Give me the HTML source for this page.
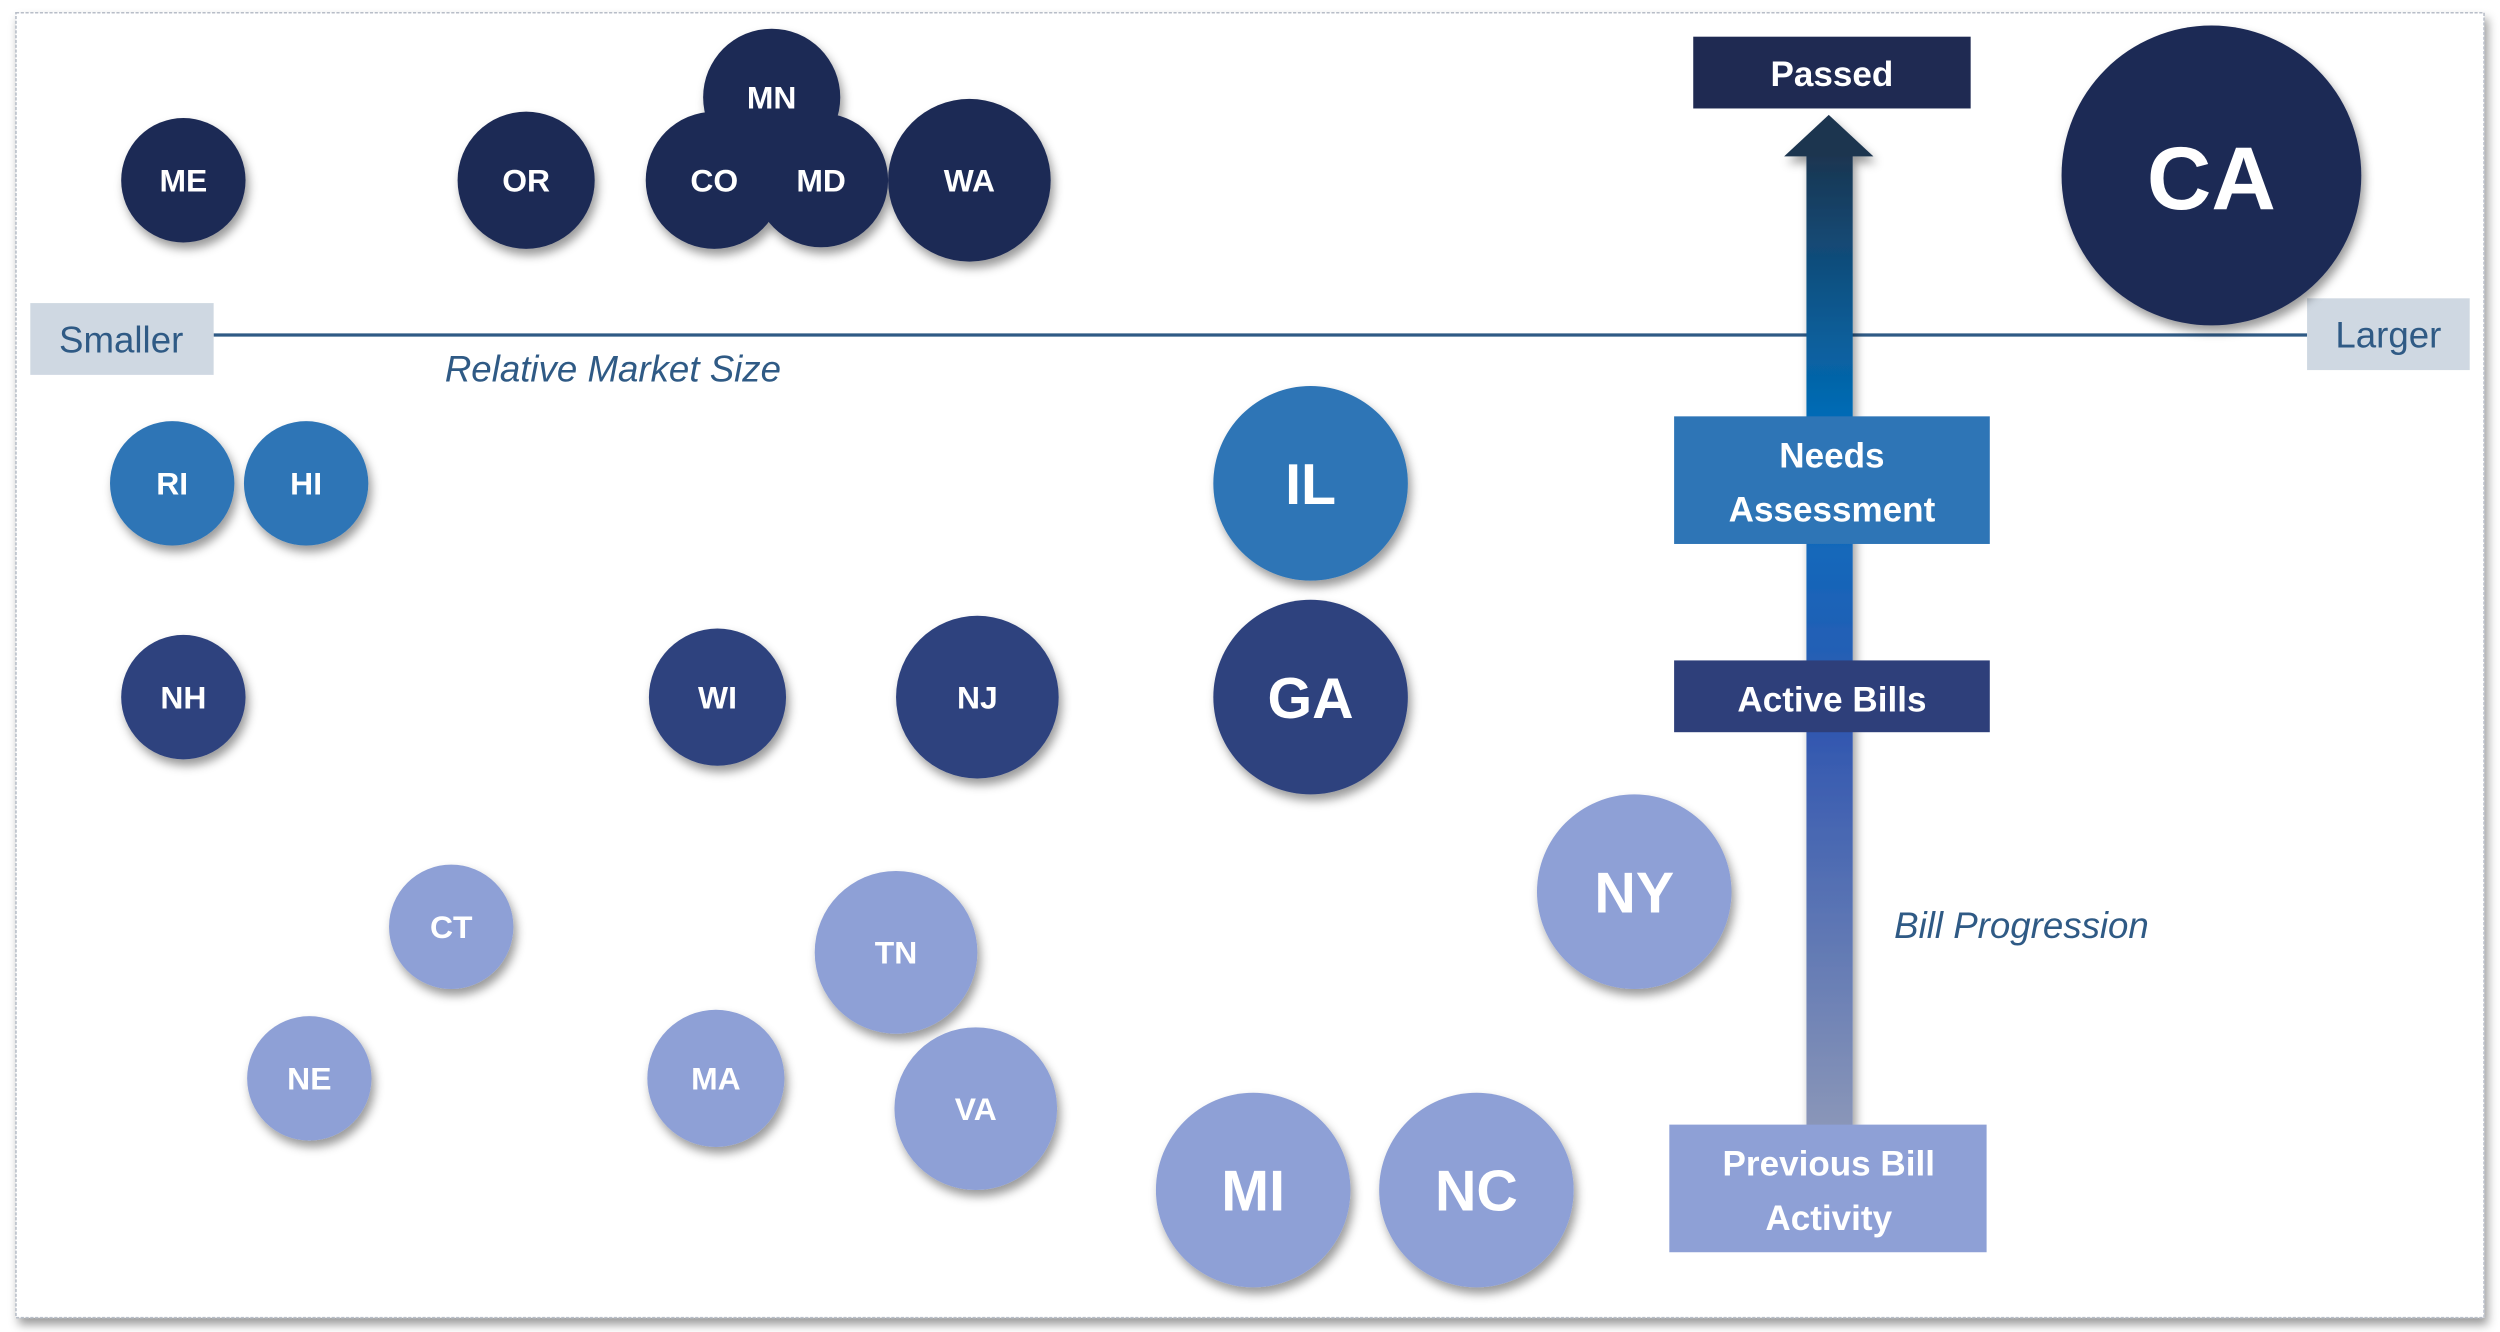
<!DOCTYPE html>
<html><head><meta charset="utf-8"><style>
html,body{margin:0;padding:0;background:#fff;}
svg{display:block;}
text{font-family:"Liberation Sans",sans-serif;}
</style></head><body>
<svg width="2500" height="1332" viewBox="0 0 1568 835" preserveAspectRatio="none" xmlns="http://www.w3.org/2000/svg">
<defs>
<linearGradient id="ag" x1="0" y1="0" x2="0" y2="1">
<stop offset="0" stop-color="#1b3550"/>
<stop offset="0.18" stop-color="#0a5c96"/>
<stop offset="0.3" stop-color="#0070c0"/>
<stop offset="0.6" stop-color="#3358b0"/>
<stop offset="1" stop-color="#8a96b8"/>
</linearGradient>
<filter id="sh" x="-30%" y="-30%" width="160%" height="160%">
<feDropShadow dx="2" dy="4" stdDeviation="3" flood-color="#000" flood-opacity="0.4"/>
</filter>
</defs>
<rect x="0" y="0" width="1568" height="835" fill="#fff"/>
<rect x="10" y="8" width="1548" height="818" fill="#fff" stroke="#b8bec8" stroke-width="1" stroke-dasharray="2,1" filter="url(#sh)"/>

<!-- axis -->
<line x1="134" y1="210" x2="1447" y2="210" stroke="#2f5a85" stroke-width="2"/>
<rect x="19" y="190" width="115" height="45" fill="#cfd8e2"/>
<text x="76" y="221" font-size="23" fill="#2f5a85" text-anchor="middle">Smaller</text>
<rect x="1447" y="187" width="102" height="45" fill="#cfd8e2"/>
<text x="1498" y="218" font-size="23" fill="#2f5a85" text-anchor="middle">Larger</text>
<text x="279" y="239" font-size="23" fill="#2f5a85" font-style="italic">Relative Market Size</text>
<text x="1188" y="588" font-size="23" fill="#2f5a85" font-style="italic">Bill Progression</text>

<!-- arrow -->
<g filter="url(#sh)">
<rect x="1133" y="96" width="29" height="610" fill="url(#ag)"/>
<polygon points="1119,98 1175,98 1147,72" fill="#1b3550"/>
</g>

<g font-weight="bold" fill="#fff" text-anchor="middle">
<rect x="1062" y="23" width="174" height="45" fill="#1f2a52"/>
<text x="1149" y="54" font-size="22">Passed</text>
<rect x="1050" y="261" width="198" height="80" fill="#2e75b6"/>
<text x="1149" y="293" font-size="22">Needs</text>
<text x="1149" y="327" font-size="22">Assessment</text>
<rect x="1050" y="414" width="198" height="45" fill="#2e3f7a"/>
<text x="1149" y="446" font-size="22">Active Bills</text>
<rect x="1047" y="705" width="199" height="80" fill="#8ea0d6"/>
<text x="1147" y="737" font-size="22">Previous Bill</text>
<text x="1147" y="771" font-size="22">Activity</text>
</g>

<!-- circles -->
<g filter="url(#sh)">
<circle cx="115" cy="113" r="39" fill="#1f2b55"/>
<circle cx="330" cy="113" r="43" fill="#1f2b55"/>
<circle cx="515" cy="113" r="42" fill="#1f2b55"/>
<circle cx="484" cy="61" r="43" fill="#1f2b55"/>
<circle cx="448" cy="113" r="43" fill="#1f2b55"/>
<circle cx="608" cy="113" r="51" fill="#1f2b55"/>
<circle cx="1387" cy="110" r="94" fill="#1f2b55"/>
<circle cx="108" cy="303" r="39" fill="#2e75b6"/>
<circle cx="192" cy="303" r="39" fill="#2e75b6"/>
<circle cx="822" cy="303" r="61" fill="#2e75b6"/>
<circle cx="115" cy="437" r="39" fill="#2e427e"/>
<circle cx="450" cy="437" r="43" fill="#2e427e"/>
<circle cx="613" cy="437" r="51" fill="#2e427e"/>
<circle cx="822" cy="437" r="61" fill="#2e427e"/>
<circle cx="283" cy="581" r="39" fill="#8ea0d6"/>
<circle cx="562" cy="597" r="51" fill="#8ea0d6"/>
<circle cx="194" cy="676" r="39" fill="#8ea0d6"/>
<circle cx="449" cy="676" r="43" fill="#8ea0d6"/>
<circle cx="612" cy="695" r="51" fill="#8ea0d6"/>
<circle cx="1025" cy="559" r="61" fill="#8ea0d6"/>
<circle cx="786" cy="746" r="61" fill="#8ea0d6"/>
<circle cx="926" cy="746" r="61" fill="#8ea0d6"/>
</g>
<g font-weight="bold" fill="#fff" text-anchor="middle" font-size="20">
<text x="115" y="120">ME</text>
<text x="330" y="120">OR</text>
<text x="484" y="68">MN</text>
<text x="515" y="120">MD</text>
<text x="448" y="120">CO</text>
<text x="608" y="120">WA</text>
<text x="1387" y="131" font-size="56">CA</text>
<text x="108" y="310">RI</text>
<text x="192" y="310">HI</text>
<text x="822" y="316" font-size="36">IL</text>
<text x="115" y="444">NH</text>
<text x="450" y="444">WI</text>
<text x="613" y="444">NJ</text>
<text x="822" y="450" font-size="36">GA</text>
<text x="283" y="588">CT</text>
<text x="562" y="604">TN</text>
<text x="194" y="683">NE</text>
<text x="449" y="683">MA</text>
<text x="612" y="702">VA</text>
<text x="1025" y="572" font-size="36">NY</text>
<text x="786" y="759" font-size="36">MI</text>
<text x="926" y="759" font-size="36">NC</text>
</g>
</svg>
</body></html>
